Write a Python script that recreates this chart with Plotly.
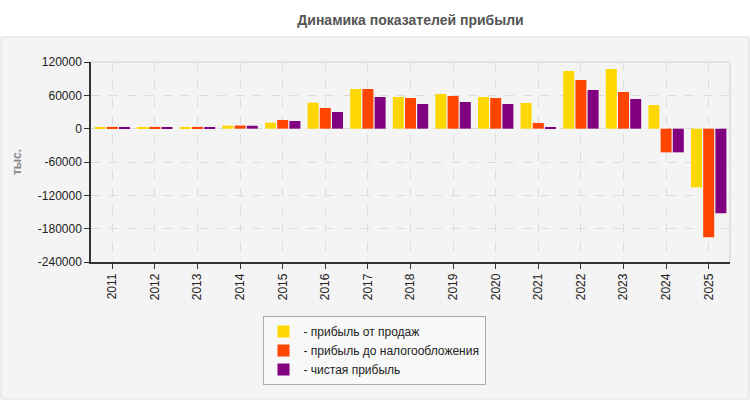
import plotly.graph_objects as go

years = [str(y) for y in range(2011, 2026)]
sales_profit = [3000, 3000, 3000, 5400, 10800, 46800, 71400, 57000, 62400, 57000, 46200, 103800, 107400, 42600, -105600]
pretax_profit = [3200, 3200, 3200, 5600, 15600, 37200, 71400, 55200, 58800, 55200, 10200, 87600, 66000, -42600, -195600]
net_profit = [3000, 3000, 3000, 5200, 13800, 30000, 57000, 44400, 48000, 44400, 3000, 69600, 53400, -42600, -152400]

series_names = ["- прибыль от продаж", "- прибыль до налогообложения", "- чистая прибыль"]
series_colors = ["#FFD700", "#FF4500", "#800080"]
y_ticks = [120000, 60000, 0, -60000, -120000, -180000, -240000]

# plot area in px: left 91, right 730, top 62, bottom 262
L, R, T, B = 91, 730, 62, 262
W, H = R - L, B - T
def px(xp):
    return (xp - L) / W
def py(yp):
    return (B - yp) / H

cat_px = W / len(years)
bw = 11 / cat_px
gap = 1.2 / cat_px
offsets = [-1.5 * bw - gap, -0.5 * bw, 0.5 * bw + gap]

fig = go.Figure()
for name, vals, col, off in zip(series_names, [sales_profit, pretax_profit, net_profit], series_colors, offsets):
    fig.add_trace(go.Bar(x=years, y=vals, name=name, width=bw, offset=off,
                         marker=dict(color=col, line=dict(width=0))))

fig.add_shape(type="rect", xref="paper", yref="paper",
              x0=px(1), x1=px(749), y0=py(399), y1=py(37),
              fillcolor="#f4f4f4", line=dict(color="#dddddd", width=1), layer="below")

fig.update_layout(
    width=750, height=400,
    margin=dict(l=L, r=750 - R, t=T, b=400 - B),
    paper_bgcolor="#ffffff",
    plot_bgcolor="#fbfbf6",
    font=dict(family="Liberation Sans, Arial, sans-serif", size=12, color="#222222"),
    title=dict(text="<b>Динамика показателей прибыли</b>", x=0.5, xref="paper", xanchor="center",
               y=1 - 20 / 400, yanchor="middle", font=dict(size=14, color="#555555")),
    barmode="overlay",
    showlegend=True,
    legend=dict(x=(374 - L) / W, xanchor="center", y=py(316), yanchor="top",
                bgcolor="#f8f8f8", bordercolor="#aaaaaa", borderwidth=1,
                font=dict(size=12, color="#222222"), tracegroupgap=0, itemwidth=30),
    xaxis=dict(type="category", tickangle=-90, showgrid=True, gridcolor="#dddddd", griddash="dash",
               showline=True, linecolor="#333333", linewidth=1.5, ticks="outside", ticklen=5,
               tickcolor="#333333", mirror=False, tickfont=dict(size=12, color="#222222")),
    yaxis=dict(range=[-240000, 120000], tickvals=y_ticks, ticktext=[str(v) for v in y_ticks],
               showgrid=True, gridcolor="#dddddd", griddash="dash", zeroline=False,
               showline=True, linecolor="#333333", linewidth=1.5,
               ticks="outside", ticklen=5, tickcolor="#333333",
               tickfont=dict(size=12, color="#222222"),
               title=dict(text="<b>тыс.</b>", font=dict(size=12, color="#888888"), standoff=14)),
)
# light top/right border
fig.add_shape(type="line", xref="paper", yref="paper", x0=0, x1=1, y0=1, y1=1,
              line=dict(color="#dddddd", width=1.5))
fig.add_shape(type="line", xref="paper", yref="paper", x0=1, x1=1, y0=0, y1=1,
              line=dict(color="#dddddd", width=1.5))

fig.write_html("out.html")
